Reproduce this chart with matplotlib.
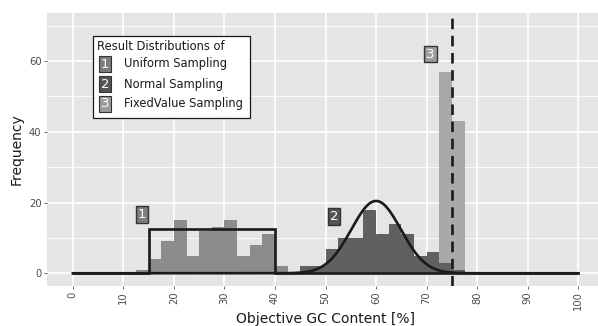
import numpy as np
import matplotlib
matplotlib.use("Agg")
import matplotlib.pyplot as plt

# ---- data ----
bin_width = 2.5
uniform_bin_starts = [12.5, 15, 17.5, 20, 22.5, 25, 27.5, 30, 32.5, 35, 37.5, 40]
uniform_counts = [1, 4, 9, 15, 5, 12, 13, 15, 5, 8, 11, 2]
normal_bin_starts = [45, 47.5, 50, 52.5, 55, 57.5, 60, 62.5, 65, 67.5, 70, 72.5, 75]
normal_counts = [2, 2, 7, 10, 10, 18, 11, 14, 11, 5, 6, 3, 1]
fixed_bin_starts = [72.5, 75]
fixed_counts = [57, 43]

uniform_low, uniform_high, uniform_height = 15, 40, 12.45
normal_mean, normal_sd, normal_peak = 60, 4.9, 20.45
fixed_value = 75

x_ticks = [0, 10, 20, 30, 40, 50, 60, 70, 80, 90, 100]
y_ticks = [0, 20, 40, 60]

labels = ["1", "2", "3"]
legend_items = ["Uniform Sampling", "Normal Sampling", "FixedValue Sampling"]
legend_title = "Result Distributions of"
label_pos = [(13.7, 16.5), (51.7, 16.0), (70.8, 62.0)]

col_uniform = "#8c8c8c"
col_normal = "#606060"
col_fixed = "#a9a9a9"
box_cols = ["#7d7d7d", "#555555", "#9c9c9c"]

W, H = 598, 326
fig = plt.figure(figsize=(W / 100, H / 100), dpi=100)
ax = fig.add_axes([47 / W, (H - 286) / H, (598 - 47) / W, (286 - 13) / H])
ax.set_facecolor("#e5e5e5")
ax.set_xlim(-5.1, 103.9)
ax.set_ylim(-3.6, 73.6)

# grid
for v in [10, 30, 50, 70]:
    ax.axhline(v, color="white", lw=0.6, zorder=0)
for v in y_ticks:
    ax.axhline(v, color="white", lw=1.2, zorder=0)
for v in x_ticks:
    ax.axvline(v, color="white", lw=1.2, zorder=0)

ax.bar(uniform_bin_starts, uniform_counts, width=bin_width, align="edge",
       color=col_uniform, lw=0, zorder=2)
ax.bar(fixed_bin_starts, fixed_counts, width=bin_width, align="edge",
       color=col_fixed, lw=0, zorder=2)
ax.bar(normal_bin_starts, normal_counts, width=bin_width, align="edge",
       color=col_normal, lw=0, zorder=3)

# theoretical curves
xs = np.linspace(0, 100, 1001)
ax.plot([0, uniform_low, uniform_low, uniform_high, uniform_high, 100],
        [0, 0, uniform_height, uniform_height, 0, 0],
        color="#1a1a1a", lw=1.9, zorder=4, solid_joinstyle="miter")
ny = normal_peak * np.exp(-0.5 * ((xs - normal_mean) / normal_sd) ** 2)
ax.plot(xs, ny, color="#1a1a1a", lw=1.9, zorder=4)
ax.axvline(fixed_value, color="#1a1a1a", lw=1.9, ls=(0, (4, 2.5)), zorder=4)

# numbered labels
for (lx, ly), t, c in zip(label_pos, labels, box_cols):
    ax.text(lx, ly, t, color="white", fontsize=9.5, ha="center", va="center",
            zorder=6,
            bbox=dict(boxstyle="square,pad=0.15", fc=c, ec="#333333", lw=1))

# legend box
fig.patches.append(plt.Rectangle((93 / W, 1 - 118 / H), (250 - 93) / W, (118 - 36) / H,
                                 transform=fig.transFigure, fc="white",
                                 ec="#1a1a1a", lw=0.9, zorder=5))
fig.text(97 / W, 1 - 47 / H, legend_title, fontsize=8.3, color="#1a1a1a",
         va="center", ha="left", zorder=6)
for i, (t, c, it) in enumerate(zip(labels, box_cols, legend_items)):
    yy = 1 - (64 + 20 * i) / H
    fig.text(105 / W, yy, t, fontsize=9.5, color="white", ha="center", va="center",
             zorder=6, bbox=dict(boxstyle="square,pad=0.12", fc=c, ec="#333333", lw=0.8))
    fig.text(124 / W, yy, it, fontsize=8.3, color="#1a1a1a", ha="left",
             va="center", zorder=6)

ax.set_xticks(x_ticks)
ax.set_xticklabels([str(v) for v in x_ticks], rotation=90)
ax.set_yticks(y_ticks)
ax.tick_params(axis="both", colors="#4d4d4d", labelsize=7.2, length=2.5, width=0.6,
               labelcolor="#4d4d4d", pad=1.5)
for s in ax.spines.values():
    s.set_visible(False)
fig.text(0.5 * (47 + 598) / W * 0 + (73 + 578) / 2 / W, 3.5 / H, "Objective GC Content [%]",
         fontsize=10, color="#1a1a1a", ha="center", va="baseline")
fig.text(16.5 / W, 1 - 149 / H, "Frequency", fontsize=10, color="#1a1a1a",
         ha="center", va="center", rotation=90)

fig.savefig("out.png", dpi=100)
